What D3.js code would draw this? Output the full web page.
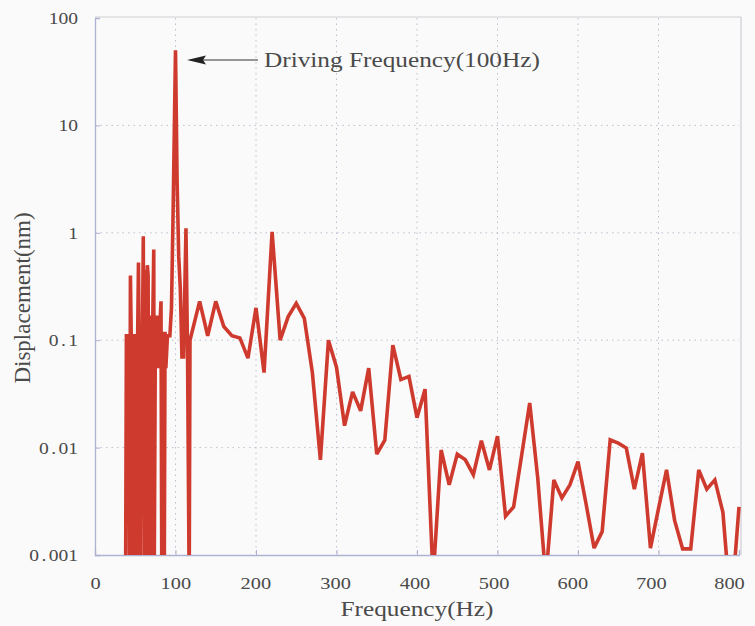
<!DOCTYPE html>
<html>
<head>
<meta charset="utf-8">
<script src="https://cdn.jsdelivr.net/npm/d3@7/dist/d3.min.js"></script>
<style>
  html, body { margin: 0; padding: 0; background: #fbfafa; }
  svg { display: block; }
  text { font-family: "Liberation Serif", "DejaVu Serif", serif; fill: #4a4a4a; }
</style>
</head>
<body>
<svg id="chart" width="755" height="626"></svg>
<script>
// Displacement spectrum: frequency (Hz) and displacement amplitude (nm)
const freqHz = [
  38, 39, 42, 43, 44, 45, 46, 47, 49, 50, 51, 52, 53, 54, 55, 56, 57, 59, 60, 61,
  62, 63, 64, 65, 66, 67, 68, 69, 70, 71, 73, 73.5, 75, 77, 78, 80, 82, 83, 84, 85,
  86, 87, 88, 90, 93, 95, 97, 100, 102, 104, 106, 108, 110, 113, 115, 117, 118,
  130, 140, 150, 160, 170, 180, 190, 200, 210, 220, 230, 240, 250, 260, 270, 280,
  290, 300, 310, 320, 330, 340, 350, 360, 370, 380, 390, 400, 410, 420, 430, 440,
  450, 460, 470, 480, 490, 500, 510, 520, 530, 540, 550, 560, 570, 580, 590, 600,
  610, 620, 630, 640, 650, 660, 670, 680, 690, 700, 710, 720, 730, 740, 750, 760,
  770, 780, 790, 800
];
const displacementNm = [
  0.0005, 0.11, 0.11, 0.0005, 0.4, 0.11, 0.0005, 0.11, 0.11, 0.0005, 0.055, 0.0005, 0.11, 0.53, 0.06, 0.0005, 0.11, 0.11, 0.93, 0.0005,
  0.45, 0.12, 0.0005, 0.5, 0.4, 0.0005, 0.11, 0.17, 0.0005, 0.06, 0.7, 0.0005, 0.11, 0.17, 0.055, 0.11, 0.23, 0.0005, 0.055, 0.12,
  0.0005, 0.12, 0.055, 0.11, 0.11, 0.2, 1.5, 50, 3, 0.6, 0.3, 0.07, 0.07, 1.1, 0.07, 0.0005, 0.1,
  0.23, 0.11, 0.23, 0.134, 0.11, 0.105, 0.068, 0.2, 0.05, 1.02, 0.1, 0.166, 0.22, 0.16, 0.05, 0.0077,
  0.1, 0.056, 0.016, 0.033, 0.022, 0.055, 0.0087, 0.0117, 0.09, 0.043, 0.046, 0.019, 0.035, 0.0006, 0.0095, 0.0045,
  0.0087, 0.0077, 0.0056, 0.0116, 0.0062, 0.0128, 0.0023, 0.0028, 0.0085, 0.026, 0.0052, 0.0006, 0.005, 0.0034, 0.0045, 0.0074,
  0.003, 0.00116, 0.00165, 0.0118, 0.011, 0.0099, 0.0041, 0.0089, 0.00116, 0.0027, 0.0062, 0.0021, 0.00114, 0.00114, 0.0062, 0.0041,
  0.005, 0.0025, 0.0003, 0.0028
];

const xTicks = [0, 100, 200, 300, 400, 500, 600, 700, 800];
const yTicks = [0.001, 0.01, 0.1, 1, 10, 100];
const yTickLabels = ["0.001", "0.01", "0.1", "1", "10", "100"];

const svg = d3.select("#chart");
const plotL = 95, plotR = 739, plotT = 18, plotB = 555;

const x = d3.scaleLinear().domain([0, 800]).range([plotL, plotR]);
const y = d3.scaleLog().domain([0.001, 100]).range([plotB, plotT]);

// Dotted grid
const grid = svg.append("g").attr("stroke", "#bcbfcf").attr("stroke-width", 1)
  .attr("stroke-dasharray", "1.5,4");
grid.selectAll("line.v").data(xTicks.slice(1, -1)).join("line").attr("class", "v")
  .attr("x1", d => x(d)).attr("x2", d => x(d)).attr("y1", plotT).attr("y2", plotB);
grid.selectAll("line.h").data(yTicks.slice(1, -1)).join("line").attr("class", "h")
  .attr("x1", plotL).attr("x2", plotR).attr("y1", d => y(d)).attr("y2", d => y(d));

// Frame: top and right edges
svg.append("line").attr("x1", plotL).attr("x2", plotR + 2).attr("y1", plotT - 1).attr("y2", plotT - 1)
  .attr("stroke", "#cfcfd6").attr("stroke-width", 1.2);
svg.append("line").attr("x1", plotR + 2).attr("x2", plotR + 2).attr("y1", plotT - 1).attr("y2", plotB)
  .attr("stroke", "#cfcfd6").attr("stroke-width", 1.2);

// Axes
const xPad = 22, yPad = 17;
const xAxis = d3.axisBottom(x).tickValues(xTicks).tickSize(-5).tickPadding(xPad).tickFormat(d3.format("d"));
const yAxis = d3.axisLeft(y).tickValues(yTicks).tickSize(-5).tickPadding(yPad)
  .tickFormat((d, i) => yTickLabels[i]);

const gx = svg.append("g").attr("transform", `translate(0,${plotB})`).call(xAxis);
const gy = svg.append("g").attr("transform", `translate(${plotL},0)`).call(yAxis);
[gx, gy].forEach(g => {
  g.select(".domain").attr("stroke", "#aeb2d2").attr("stroke-width", 1.3);
  g.selectAll(".tick line").attr("stroke", "#aeb2d2");
  g.selectAll(".tick text").style("font-family", '"Liberation Serif", serif')
    .style("font-size", "17px").attr("fill", "#555");
});

// Frequency labels: wide set, drifting slightly left toward the right end
gx.selectAll(".tick text")
  .attr("transform", d => `translate(${-10 * (d / 800) * (d / 800)},0) scale(1.2,1)`);

// Displacement labels: digits widened, decimal point given a full digit slot
gy.selectAll(".tick text").each(function () {
  const t = d3.select(this);
  const s = t.text();
  t.text(null).attr("x", 0).attr("transform", `translate(${-yPad},0) scale(1.15,1)`);
  let padNext = 0;
  for (const ch of s) {
    const ts = t.append("tspan").text(ch);
    if (ch === ".") { ts.attr("dx", 2.1); padNext = 2.1; }
    else if (padNext) { ts.attr("dx", padNext); padNext = 0; }
  }
});

// Spectrum line, clipped to the plot area
svg.append("clipPath").attr("id", "plotClip").append("rect")
  .attr("x", plotL).attr("y", plotT - 2).attr("width", plotR - plotL + 2).attr("height", plotB - plotT + 2);

const pts = freqHz.map((f, i) => [f, displacementNm[i]]);
const line = d3.line().x(d => x(d[0])).y(d => y(d[1]));
svg.append("path").datum(pts)
  .attr("clip-path", "url(#plotClip)")
  .attr("fill", "none").attr("stroke", "#cf3a2e").attr("stroke-width", 3.6)
  .attr("stroke-linejoin", "miter").attr("stroke-miterlimit", 3)
  .attr("d", line);

// Annotation for the driving frequency
const ay = 60;
svg.append("line").attr("x1", 203).attr("x2", 258).attr("y1", ay).attr("y2", ay)
  .attr("stroke", "#333").attr("stroke-width", 1.2);
svg.append("path")
  .attr("d", `M187,${ay} L206,${ay - 4.5} L203,${ay} L206,${ay + 4.5} Z`)
  .attr("fill", "#222");
svg.append("text").attr("transform", `translate(264,${ay + 7}) scale(1.15,1)`)
  .style("font-size", "22px").text("Driving Frequency(100Hz)");

// Axis titles
svg.append("text").attr("transform", "translate(417,616) scale(1.15,1)").attr("text-anchor", "middle")
  .style("font-size", "22px").text("Frequency(Hz)");
svg.append("text").attr("transform", "translate(30,298) rotate(-90)").attr("text-anchor", "middle")
  .style("font-size", "23px").text("Displacement(nm)");
</script>
</body>
</html>
